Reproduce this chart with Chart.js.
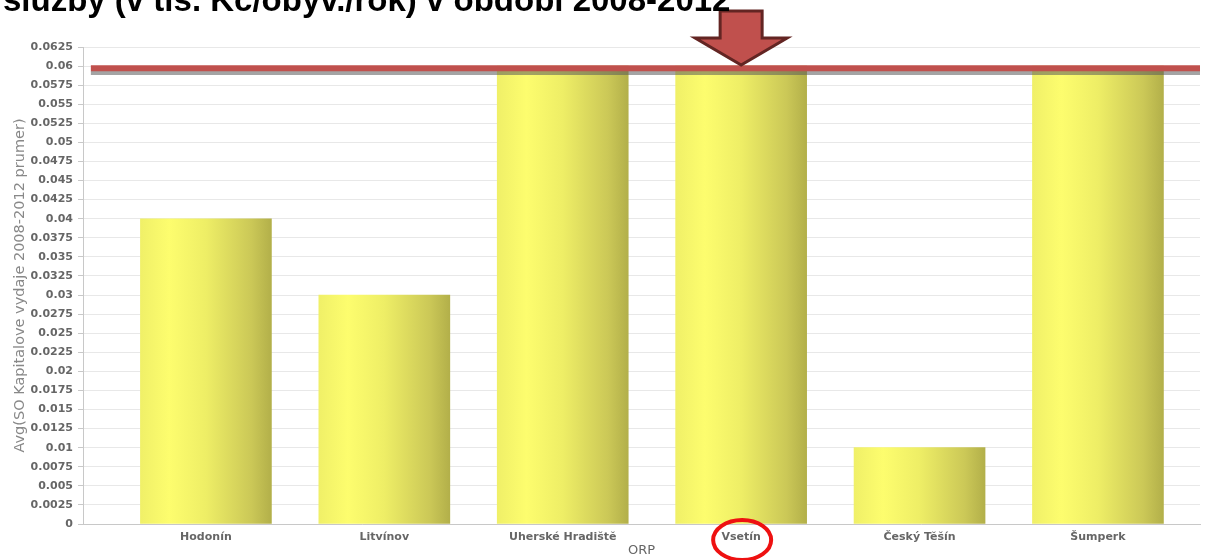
<!DOCTYPE html>
<html>
<head>
<meta charset="utf-8">
<script src="https://cdn.jsdelivr.net/npm/chart.js@4"></script>
<style>
  html, body { margin: 0; padding: 0; background: #fff; overflow: hidden; }
  #wrap { position: relative; width: 1206px; height: 560px; }
  #title {
    position: absolute; left: 3px; top: -18px; white-space: nowrap;
    font: bold 33px "Liberation Sans", Arial, sans-serif; color: #000; line-height: 36px;
  }
  canvas { position: absolute; left: 0; top: 0; }
</style>
</head>
<body>
<div id="wrap">
  <canvas id="chart" width="1206" height="560"></canvas>
  <div id="title">služby (v tis. Kč/obyv./rok) v období 2008-2012</div>
</div>
<script>
// data
const categories = ['Hodonín', 'Litvínov', 'Uherské Hradiště', 'Vsetín', 'Český Těšín', 'Šumperk'];
const values = [0.04, 0.03, 0.06, 0.06, 0.01, 0.06];
const avgLine = 0.0597;
const avgShadow = 0.0591;
const yMax = 0.0625;
const yStep = 0.0025;
const highlight = 3; // Vsetín

const tickColor = '#666';
const tickFont = { family: 'DejaVu Sans', size: 11, weight: 'bold' };

function barGradient(ctx) {
    const chart = ctx.chart;
    if (!chart.chartArea || ctx.type !== 'data') return '#f2f26a';
    const cx = chart.scales.x.getPixelForValue(ctx.parsed.x);
    const g = chart.ctx.createLinearGradient(cx - 65, 0, cx + 65, 0);
    g.addColorStop(0, '#f0f068');
    g.addColorStop(0.22, '#fdfd6e');
    g.addColorStop(0.5, '#eeee66');
    g.addColorStop(0.85, '#cbc857');
    g.addColorStop(1, '#b3b04a');
    return g;
}

// arrow above the highlighted bar + circle round its label
const marksPlugin = {
    id: 'marks',
    afterDatasetsDraw(chart) {
        const c = chart.ctx;
        const cx = chart.scales.x.getPixelForValue(highlight);
        const tip = chart.scales.y.getPixelForValue(yMax) + 18;
        c.save();
        c.beginPath();
        c.moveTo(cx - 21, 11);
        c.lineTo(cx + 21, 11);
        c.lineTo(cx + 21, 38);
        c.lineTo(cx + 46, 38);
        c.lineTo(cx, tip);
        c.lineTo(cx - 46, 38);
        c.lineTo(cx - 21, 38);
        c.closePath();
        c.fillStyle = '#c0504d';
        c.fill();
        c.lineWidth = 3;
        c.strokeStyle = '#632523';
        c.stroke();
        c.restore();
    },
    afterDraw(chart) {
        const c = chart.ctx;
        const cx = chart.scales.x.getPixelForValue(highlight);
        c.save();
        c.beginPath();
        c.ellipse(cx + 1, 540, 29, 20, 0, 0, Math.PI * 2);
        c.lineWidth = 4;
        c.strokeStyle = '#ee1111';
        c.stroke();
        c.restore();
    }
};

new Chart(document.getElementById('chart'), {
    type: 'bar',
    data: {
        datasets: [
            {
                type: 'line',
                data: [{ x: -0.645, y: avgLine }, { x: 5.572, y: avgLine }],
                borderColor: '#c0504d',
                borderWidth: 6,
                pointRadius: 0,
                order: 1
            },
            {
                type: 'line',
                data: [{ x: -0.645, y: avgShadow }, { x: 5.572, y: avgShadow }],
                borderColor: 'rgba(90,90,90,0.55)',
                borderWidth: 4,
                pointRadius: 0,
                order: 2
            },
            {
                data: values.map((v, i) => ({ x: i, y: v })),
                backgroundColor: barGradient,
                borderWidth: 0,
                barThickness: 131,
                order: 3
            }
        ]
    },
    options: {
        responsive: false,
        animation: false,
        layout: { padding: { top: 47, right: 6, left: 0, bottom: 0 } },
        plugins: { legend: { display: false }, tooltip: { enabled: false } },
        scales: {
            x: {
                type: 'linear',
                min: -0.689,
                max: 5.572,
                offset: false,
                afterFit: s => { s.height = 36; },
                afterBuildTicks: s => { s.ticks = categories.map((c, i) => ({ value: i })); },
                ticks: {
                    callback: v => categories[v] || '',
                    color: tickColor,
                    font: tickFont,
                    padding: 7,
                    maxRotation: 0,
                    autoSkip: false
                },
                grid: { display: true, drawOnChartArea: false, drawTicks: false },
                border: { color: '#c8c8c8', width: 1 },
                title: {
                    display: true,
                    text: 'ORP',
                    color: '#666',
                    font: { family: 'DejaVu Sans', size: 13 },
                    padding: { top: 0, bottom: 2 }
                }
            },
            y: {
                min: 0,
                max: yMax,
                afterFit: s => { s.width = 83; },
                ticks: {
                    stepSize: yStep,
                    callback: v => String(Number(v.toFixed(4))),
                    color: tickColor,
                    font: tickFont,
                    padding: 5
                },
                grid: { color: '#e8e8e8', tickLength: 5, tickColor: '#c8c8c8' },
                border: { color: '#c8c8c8', width: 1 },
                title: {
                    display: true,
                    text: 'Avg(SO Kapitalove vydaje 2008-2012 prumer)',
                    color: '#888',
                    font: { family: 'DejaVu Sans', size: 14.5 },
                    padding: { top: 12, bottom: 0 }
                }
            }
        }
    },
    plugins: [marksPlugin]
});
</script>
</body>
</html>
